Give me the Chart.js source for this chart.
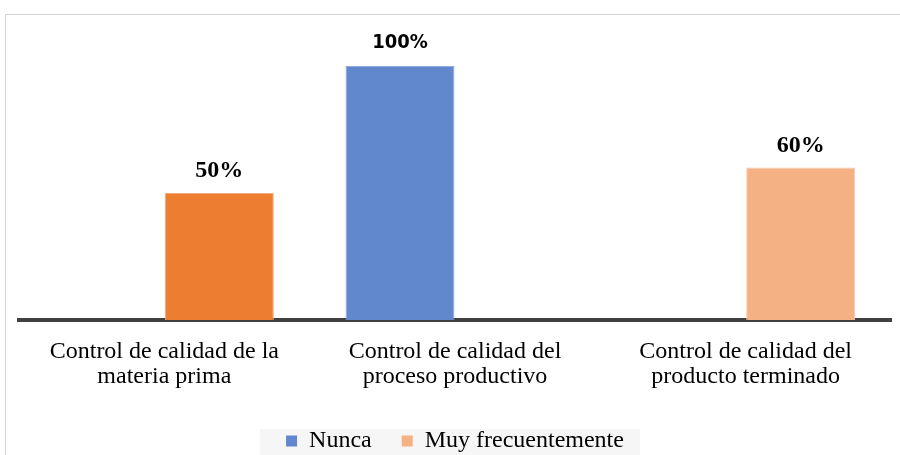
<!DOCTYPE html>
<html>
<head>
<meta charset="utf-8">
<script src="https://cdn.jsdelivr.net/npm/chart.js@4.4.0/dist/chart.umd.min.js"></script>
<style>
  html, body { margin: 0; padding: 0; background: #fff; overflow: hidden; }
  #wrap { width: 900px; height: 463px; position: relative; }
</style>
</head>
<body>
<div id="wrap"><canvas id="grafico"></canvas></div>
<script>
// datos
const categorias = [
    ['Control de calidad de la', 'materia prima'],
    ['Control de calidad del', 'proceso productivo'],
    ['Control de calidad del', 'producto terminado']
];
const nunca = [null, 100, null];
const muyFrecuentemente = [50, null, 60];

const colorNunca = '#6187CC';
const coloresMuyFrec = ['#ED7D31', '#F4B183', '#F4B183'];
const colorLeyendaMuyFrec = '#F4B183';

const fuenteSerif = '"Liberation Serif", "Times New Roman", serif';
const fuenteNarrow = '"Liberation Sans Narrow", "DejaVu Sans Condensed", "Arial Narrow", sans-serif';

// marco gris y fondo de la leyenda
const marcoPlugin = {
    id: 'marco',
    beforeDraw(chart) {
        const ctx = chart.ctx;
        ctx.save();
        ctx.strokeStyle = '#D4D4D4';
        ctx.lineWidth = 1;
        ctx.strokeRect(5.5, 14.5, 920, 520);
        const cajas = chart.legend.legendHitBoxes;
        if (cajas && cajas.length) {
            const izq = Math.min(...cajas.map(c => c.left)) - 26;
            const der = Math.max(...cajas.map(c => c.left + c.width)) + 16;
            ctx.fillStyle = '#F6F6F6';
            ctx.fillRect(izq, 429, der - izq, 26);
        }
        ctx.restore();
    }
};

// etiquetas de porcentaje sobre las barras
const etiquetasPlugin = {
    id: 'etiquetas',
    afterDatasetsDraw(chart) {
        const ctx = chart.ctx;
        ctx.save();
        ctx.textAlign = 'center';
        ctx.textBaseline = 'alphabetic';
        ctx.fillStyle = '#000';
        chart.data.datasets.forEach((ds, i) => {
            const meta = chart.getDatasetMeta(i);
            meta.data.forEach((barra, j) => {
                const v = ds.data[j];
                if (v === null || v === undefined) return;
                ctx.font = ds.fuenteEtiqueta;
                ctx.fillText(v + '%', barra.x, barra.y - ds.separacion);
            });
        });
        ctx.restore();
    }
};

const ctx = document.getElementById('grafico').getContext('2d');
const myChart = new Chart(ctx, {
    type: 'bar',
    data: {
        labels: categorias,
        datasets: [{
            label: 'Nunca',
            data: nunca,
            backgroundColor: colorNunca,
            borderColor: '#8FAADC',
            borderWidth: 1,
            categoryPercentage: 0.757,
            barPercentage: 0.99,
            fuenteEtiqueta: 'bold 20px ' + fuenteNarrow,
            separacion: 18,
            colorLeyenda: colorNunca
        }, {
            label: 'Muy frecuentemente',
            data: muyFrecuentemente,
            backgroundColor: coloresMuyFrec,
            borderColor: ['#F4A97A', '#F8CBAD', '#F8CBAD'],
            borderWidth: 1,
            categoryPercentage: 0.757,
            barPercentage: 0.99,
            fuenteEtiqueta: 'bold 24px ' + fuenteSerif,
            separacion: 16,
            colorLeyenda: colorLeyendaMuyFrec
        }]
    },
    options: {
        responsive: true,
        maintainAspectRatio: false,
        animation: false,
        layout: {
            padding: { left: 19, right: 9, top: 66, bottom: 0 }
        },
        plugins: {
            legend: {
                position: 'bottom',
                labels: {
                    color: '#000',
                    font: { family: fuenteSerif, size: 24 },
                    boxWidth: 11,
                    boxHeight: 11,
                    padding: 30,
                    generateLabels(chart) {
                        const items = Chart.defaults.plugins.legend.labels.generateLabels(chart);
                        items.forEach(it => {
                            const ds = chart.data.datasets[it.datasetIndex];
                            it.fillStyle = ds.colorLeyenda;
                            it.strokeStyle = ds.colorLeyenda;
                            it.lineWidth = 0;
                        });
                        return items;
                    }
                }
            },
            tooltip: { enabled: false }
        },
        scales: {
            x: {
                grid: { display: false, drawTicks: false },
                border: { color: '#404040', width: 4 },
                ticks: {
                    color: '#000',
                    font: { family: fuenteSerif, size: 24, lineHeight: 1.04 },
                    maxRotation: 0,
                    autoSkip: false,
                    padding: 19
                },
                afterFit(scale) {
                    scale.height = 79;
                }
            },
            y: {
                display: false,
                min: 0,
                max: 100
            }
        }
    },
    plugins: [marcoPlugin, etiquetasPlugin]
});
</script>
</body>
</html>
